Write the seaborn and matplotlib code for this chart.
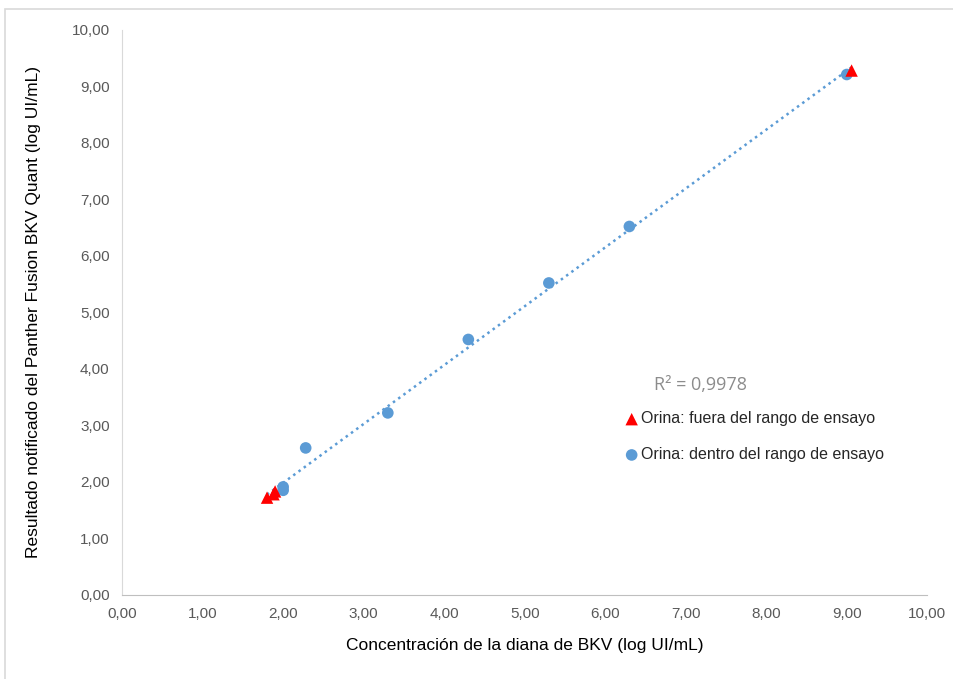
import numpy as np
import pandas as pd
import seaborn as sns
import matplotlib.pyplot as plt
from matplotlib.patches import Rectangle

# dentro del rango (blue circles)
dentro_x = [2.00, 2.00, 2.28, 3.30, 4.30, 5.30, 6.30, 9.00]
dentro_y = [1.91, 1.85, 2.60, 3.22, 4.52, 5.52, 6.52, 9.21]
# fuera del rango (red triangles)
fuera_x = [1.80, 1.88, 1.90, 9.06]
fuera_y = [1.72, 1.78, 1.83, 9.28]
r2_text = "R² = 0,9978"

df = pd.DataFrame({
    "x": dentro_x + fuera_x,
    "y": dentro_y + fuera_y,
    "grupo": ["dentro"] * len(dentro_x) + ["fuera"] * len(fuera_x),
})

sns.set_style("white")
plt.rcParams['font.family'] = ['Liberation Sans', 'DejaVu Sans']

fig = plt.figure(figsize=(9.54, 6.79), dpi=100)
ax = fig.add_axes([0.128, 0.124, 0.844, 0.832])

# outer frame of the original chart
fig.patches.append(Rectangle((0.005, -0.01), 1.2, 0.997, transform=fig.transFigure,
                             fill=False, edgecolor='#d9d9d9', linewidth=1.2))

sns.regplot(data=df, x="x", y="y", scatter=False, ci=None, truncate=True, ax=ax,
            line_kws=dict(color='#5b9bd5', linestyle=(0, (1, 1.6)), linewidth=1.8))

sns.scatterplot(data=df[df.grupo == "dentro"], x="x", y="y", ax=ax, color='#5b9bd5',
                marker='o', s=70, edgecolor='none', zorder=3,
                label="Orina: dentro del rango de ensayo")
sns.scatterplot(data=df[df.grupo == "fuera"], x="x", y="y", ax=ax, color='#ff0000',
                marker='^', s=80, edgecolor='none', zorder=4,
                label="Orina: fuera del rango de ensayo")

ax.set_xlim(0, 10)
ax.set_ylim(0, 10)
ticks = np.arange(0, 11, 1)
ax.set_xticks(ticks)
ax.set_yticks(ticks)
ax.set_xticklabels([f"{t:.2f}".replace('.', ',') for t in ticks])
ax.set_yticklabels([f"{t:.2f}".replace('.', ',') for t in ticks])
ax.tick_params(axis='both', colors='#595959', labelsize=11, length=0, pad=9)

for side in ['top', 'right']:
    ax.spines[side].set_visible(False)
ax.spines['left'].set_color('#d9d9d9')
ax.spines['bottom'].set_color('#bfbfbf')

ax.set_xlabel("Concentración de la diana de BKV (log UI/mL)", fontsize=12.5, color='black', labelpad=12)
ax.set_ylabel("Resultado notificado del Panther Fusion BKV Quant (log UI/mL)", fontsize=12.5,
              color='black', labelpad=22)

ax.text(6.6, 3.62, r2_text, fontsize=13, color='#8c8c8c', family=['Open Sans', 'DejaVu Sans'])

handles, labels = ax.get_legend_handles_labels()
ax.legend(handles[::-1], labels[::-1], loc='upper left', bbox_to_anchor=(0.615, 0.336),
          frameon=False, fontsize=11.5, handletextpad=0.1, labelspacing=1.3,
          handlelength=1.0, borderaxespad=0)

fig.savefig("out.png", dpi=100)
